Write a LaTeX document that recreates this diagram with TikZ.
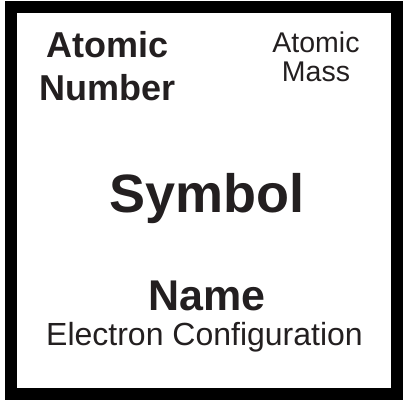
\documentclass[tikz,border=0pt]{standalone}
\usepackage{fontspec}
\setmainfont{Liberation Sans}
\definecolor{ink}{HTML}{231F20}
\begin{document}
\begin{tikzpicture}[x=1pt,y=-1pt,
  lbl/.style={inner sep=0pt,anchor=base,text=ink},
  bigbold/.style={lbl,font=\fontsize{36}{43}\selectfont\bfseries},
  small/.style={lbl,font=\fontsize{28.5}{29}\selectfont},
  sym/.style={lbl,font=\fontsize{54}{60}\selectfont\bfseries},
  nm/.style={lbl,font=\fontsize{43}{50}\selectfont\bfseries},
  cfg/.style={lbl,font=\fontsize{32}{38}\selectfont}]
\useasboundingbox (0,0) rectangle (411,405);
\draw[line width=12pt,black] (11,7) rectangle (397,394);
\node[bigbold] (an1) at (108,57) {Atomic};
\node[bigbold] (an2) at (108,100) {Number};
\node[small] (am1) at (316,52) {Atomic};
\node[small] (am2) at (316,81) {Mass};
\node[sym] (sy) at (207,212) {Symbol};
\node[nm] (na) at (207,310) {Name};
\node[cfg] (ec) at (204.5,345) {Electron Configuration};
\end{tikzpicture}
\end{document}
